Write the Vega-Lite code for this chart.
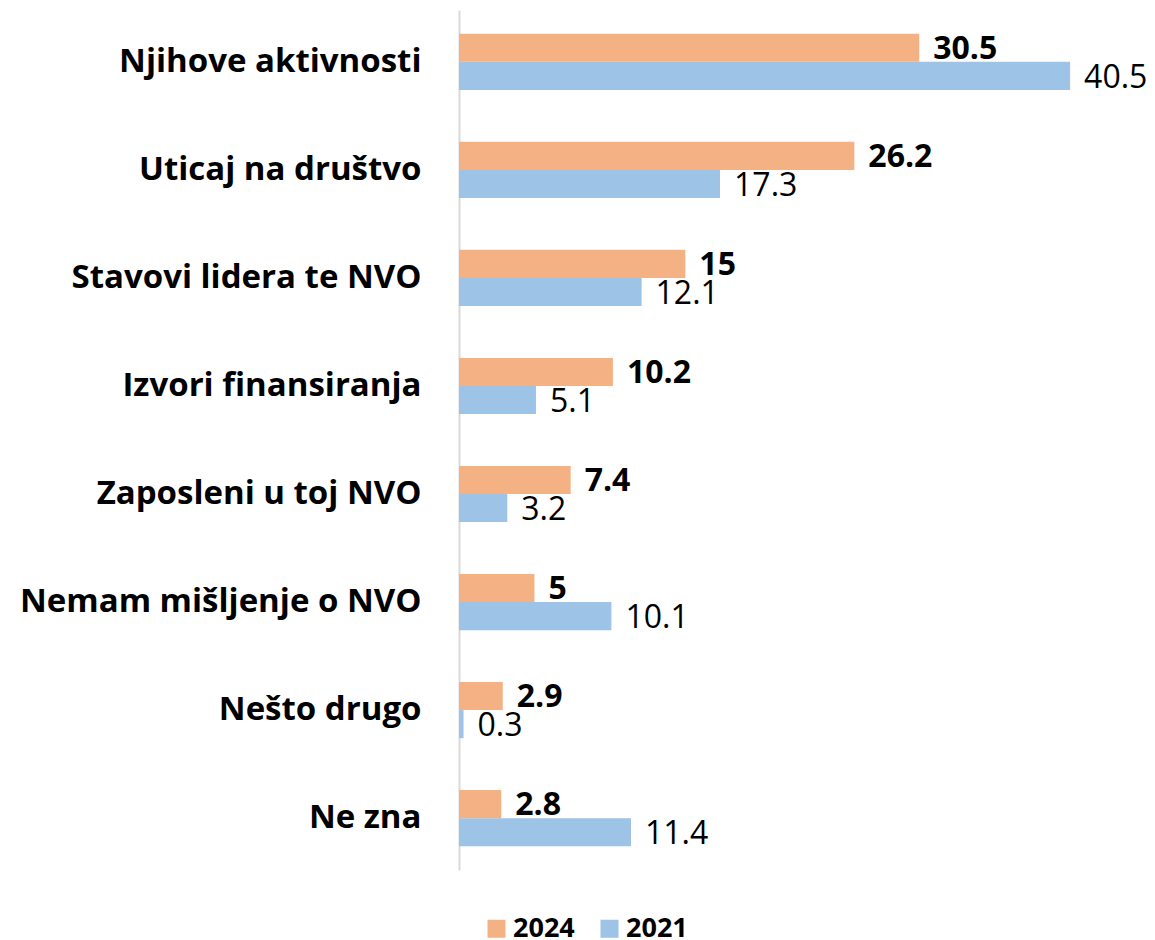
{
  "$schema": "https://vega.github.io/schema/vega-lite/v6.json",
  "width": 679,
  "height": 860,
  "autosize": {"type": "none"},
  "padding": {"left": 459, "top": 10, "right": 17, "bottom": 70},
  "background": "white",
  "config": {"view": {"stroke": null}, "font": "Open Sans"},
  "data": {
    "values": [
      {"category": "Njihove aktivnosti", "year": "2024", "value": 30.5},
      {"category": "Njihove aktivnosti", "year": "2021", "value": 40.5},
      {"category": "Uticaj na društvo", "year": "2024", "value": 26.2},
      {"category": "Uticaj na društvo", "year": "2021", "value": 17.3},
      {"category": "Stavovi lidera te NVO", "year": "2024", "value": 15},
      {"category": "Stavovi lidera te NVO", "year": "2021", "value": 12.1},
      {"category": "Izvori finansiranja", "year": "2024", "value": 10.2},
      {"category": "Izvori finansiranja", "year": "2021", "value": 5.1},
      {"category": "Zaposleni u toj NVO", "year": "2024", "value": 7.4},
      {"category": "Zaposleni u toj NVO", "year": "2021", "value": 3.2},
      {"category": "Nemam mišljenje o NVO", "year": "2024", "value": 5},
      {"category": "Nemam mišljenje o NVO", "year": "2021", "value": 10.1},
      {"category": "Nešto drugo", "year": "2024", "value": 2.9},
      {"category": "Nešto drugo", "year": "2021", "value": 0.3},
      {"category": "Ne zna", "year": "2024", "value": 2.8},
      {"category": "Ne zna", "year": "2021", "value": 11.4}
    ]
  },
  "encoding": {
    "y": {
      "field": "category",
      "type": "nominal",
      "sort": ["Njihove aktivnosti", "Uticaj na društvo", "Stavovi lidera te NVO", "Izvori finansiranja", "Zaposleni u toj NVO", "Nemam mišljenje o NVO", "Nešto drugo", "Ne zna"],
      "scale": {"paddingInner": 0.48, "paddingOuter": 0.22},
      "axis": {
        "title": null,
        "domainColor": "#d9d9d9",
        "domainWidth": 2,
        "ticks": false,
        "labelFontSize": 33,
        "labelFontWeight": "bold",
        "labelColor": "#000000",
        "labelPadding": 38,
        "labelLimit": 0
      }
    },
    "yOffset": {"field": "year", "type": "nominal", "scale": {"domain": ["2024", "2021"]}},
    "x": {"field": "value", "type": "quantitative", "scale": {"domain": [0, 45], "nice": false}, "axis": null}
  },
  "layer": [
    {
      "mark": {"type": "bar"},
      "encoding": {
        "color": {
          "field": "year",
          "type": "nominal",
          "scale": {"domain": ["2024", "2021"], "range": ["#F4B183", "#9DC3E6"]},
          "legend": {
            "orient": "none",
            "legendX": 24,
            "legendY": 905,
            "direction": "horizontal",
            "title": null,
            "symbolType": "square",
            "symbolSize": 324,
            "symbolStrokeWidth": 0,
            "labelFontSize": 27,
            "labelFontWeight": "bold",
            "labelColor": "#000000",
            "columnPadding": 21,
            "labelOffset": 3
          }
        }
      }
    },
    {
      "transform": [{"filter": "datum.year == '2024'"}],
      "mark": {"type": "text", "align": "left", "baseline": "middle", "dx": 14, "dy": 1, "fontSize": 32, "fontWeight": "bold", "color": "#000000"},
      "encoding": {"text": {"field": "value", "type": "quantitative"}}
    },
    {
      "transform": [{"filter": "datum.year == '2021'"}],
      "mark": {"type": "text", "align": "left", "baseline": "middle", "dx": 14, "dy": 2, "fontSize": 32, "fontWeight": "normal", "color": "#000000"},
      "encoding": {"text": {"field": "value", "type": "quantitative"}}
    }
  ]
}
